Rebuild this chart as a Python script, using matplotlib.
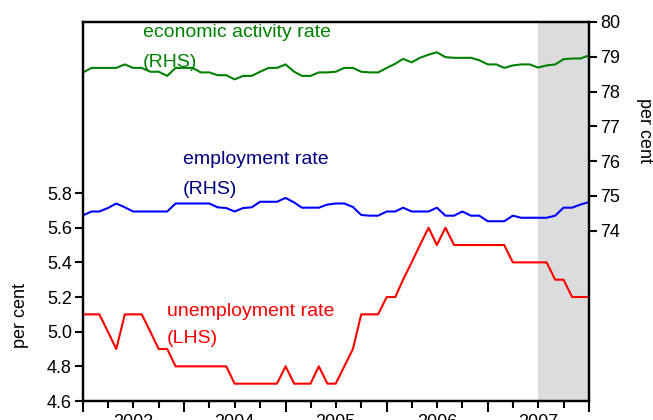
import matplotlib.pyplot as plt
import matplotlib.dates as mdates
import pandas as pd

plt.rcParams['font.family'] = ['Liberation Sans', 'DejaVu Sans']

# monthly observations, Jan 2003 - Jan 2008
months = pd.date_range('2003-01-01', periods=61, freq='MS')

unemployment = [5.1, 5.1, 5.1, 5.0, 4.9, 5.1, 5.1, 5.1, 5.0, 4.9,
                4.9, 4.8, 4.8, 4.8, 4.8, 4.8, 4.8, 4.8, 4.7, 4.7,
                4.7, 4.7, 4.7, 4.7, 4.8, 4.7, 4.7, 4.7, 4.8, 4.7,
                4.7, 4.8, 4.9, 5.1, 5.1, 5.1, 5.2, 5.2, 5.3, 5.4,
                5.5, 5.6, 5.5, 5.6, 5.5, 5.5, 5.5, 5.5, 5.5, 5.5,
                5.5, 5.4, 5.4, 5.4, 5.4, 5.4, 5.3, 5.3, 5.2, 5.2,
                5.2]

employment = [74.44, 74.55, 74.55, 74.65, 74.78, 74.67, 74.55, 74.55, 74.55, 74.55,
              74.55, 74.78, 74.78, 74.78, 74.78, 74.78, 74.67, 74.65, 74.55, 74.65,
              74.67, 74.83, 74.83, 74.83, 74.94, 74.81, 74.66, 74.66, 74.66, 74.75,
              74.78, 74.78, 74.68, 74.45, 74.43, 74.43, 74.55, 74.55, 74.66, 74.55,
              74.55, 74.55, 74.66, 74.43, 74.43, 74.55, 74.43, 74.43, 74.27, 74.27,
              74.27, 74.43, 74.37, 74.37, 74.37, 74.37, 74.43, 74.66, 74.66, 74.75,
              74.82]

activity = [78.55, 78.68, 78.68, 78.68, 78.68, 78.78, 78.68, 78.68, 78.57, 78.57,
            78.45, 78.68, 78.68, 78.68, 78.55, 78.55, 78.47, 78.47, 78.35, 78.45,
            78.45, 78.57, 78.68, 78.68, 78.78, 78.57, 78.45, 78.45, 78.55, 78.55,
            78.57, 78.68, 78.68, 78.57, 78.55, 78.55, 78.68, 78.80, 78.94, 78.84,
            78.97, 79.06, 79.13, 78.99, 78.97, 78.97, 78.97, 78.90, 78.78, 78.78,
            78.68, 78.75, 78.78, 78.78, 78.69, 78.75, 78.78, 78.93, 78.95, 78.95,
            79.04]

years = [2003, 2004, 2005, 2006, 2007]
shade_start = pd.Timestamp('2007-07-01')
left_ticks = [4.6, 4.8, 5.0, 5.2, 5.4, 5.6, 5.8]
right_ticks = [74, 75, 76, 77, 78, 79, 80]

fig = plt.figure(figsize=(6.53, 4.2), dpi=100)
ax = fig.add_axes([83 / 653, 19 / 420, 506 / 653, 379 / 420])
ax2 = ax.twinx()

ax.axvspan(shade_start, months[-1], color='#dcdcdc', lw=0, zorder=0)
ax.plot(months, unemployment, color='#ff0000', lw=1.5, zorder=3)
ax2.plot(months, employment, color='#0000ff', lw=1.5)
ax2.plot(months, activity, color='#008000', lw=1.5)

ax.set_xlim(months[0], months[-1])
ax.set_ylim(4.6, 6.787)
ax2.set_ylim(69.1, 80.0)
ax.set_yticks(left_ticks)
ax.set_yticklabels([f'{v:.1f}' for v in left_ticks])
ax2.set_yticks(right_ticks)

ax.xaxis.set_major_locator(mdates.YearLocator())
ax.xaxis.set_minor_locator(mdates.MonthLocator(bymonth=[4, 7, 10]))
ax.xaxis.set_major_formatter(plt.NullFormatter())
ax.tick_params(axis='x', which='major', length=8, width=1.5, direction='out')
ax.tick_params(axis='x', which='minor', length=5, width=1.5, direction='out')
ax.tick_params(axis='y', length=6, width=1.5, pad=2, labelsize=13)
ax2.tick_params(axis='y', length=6, width=1.5, pad=2, labelsize=13)

for a in (ax, ax2):
    for s in a.spines.values():
        s.set_linewidth(1.6)

for yr in years:
    ax.text(pd.Timestamp(f'{yr}-07-01'), -0.034, str(yr), transform=ax.get_xaxis_transform(),
            ha='center', va='top', fontsize=13)

fig.text(20.5 / 653, 1 - 315 / 420, 'per cent', rotation=90, ha='center', va='center', fontsize=13)
fig.text(644 / 653, 1 - 130 / 420, 'per cent', rotation=270, ha='center', va='center', fontsize=13)

ax.text(0.1186, 0.972, 'economic activity rate', transform=ax.transAxes, color='#008000',
        fontsize=14, va='center', ha='left')
ax.text(0.1186, 0.894, '(RHS)', transform=ax.transAxes, color='#008000',
        fontsize=14, va='center', ha='left')
ax.text(0.1976, 0.636, 'employment rate', transform=ax.transAxes, color='#000080',
        fontsize=14, va='center', ha='left')
ax.text(0.1976, 0.559, '(RHS)', transform=ax.transAxes, color='#000080',
        fontsize=14, va='center', ha='left')
ax.text(0.166, 0.235, 'unemployment rate', transform=ax.transAxes, color='#ff0000',
        fontsize=14, va='center', ha='left')
ax.text(0.166, 0.166, '(LHS)', transform=ax.transAxes, color='#ff0000',
        fontsize=14, va='center', ha='left')

fig.savefig('out.png', dpi=100, facecolor='white')
